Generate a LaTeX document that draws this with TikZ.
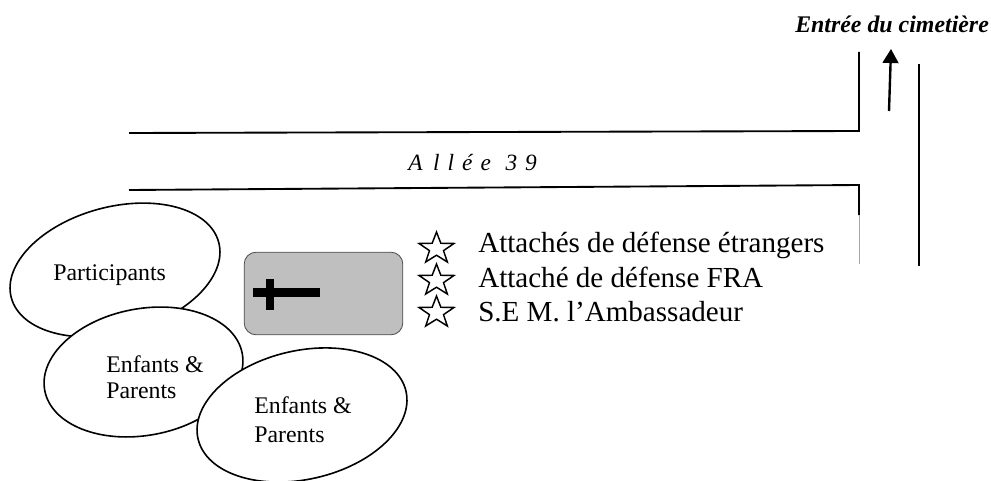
\documentclass[tikz,border=0pt]{standalone}
\usepackage{fontspec}
\setmainfont{Liberation Serif}
\usetikzlibrary{shapes.geometric,arrows.meta}
\tikzset{
  wall/.style={draw=black,line width=1.4pt,line join=miter},
  blob/.style={ellipse,draw=black,line width=1.2pt,fill=white,inner sep=0pt},
  lab/.style={anchor=base west,inner sep=0pt,font=\fontsize{17.9pt}{20pt}\selectfont},
  biglab/.style={anchor=base west,inner sep=0pt,font=\fontsize{21.8pt}{24pt}\selectfont},
  starmark/.style={star,star points=5,star point ratio=2.5,draw=black,line width=1.1pt,fill=white,inner sep=0pt,outer sep=0pt,minimum size=27.6pt,yscale=0.9}
}
\begin{document}
\begin{tikzpicture}[x=0.75pt,y=-0.75pt]
\useasboundingbox (0,0) rectangle (991,481);
\clip (0,0) rectangle (991,481);
% walls
\draw[wall] (129,133) -- (859,131) -- (859,52);
\draw[wall] (129,190) -- (859,185) -- (859,215);
\draw[draw=gray!70,line width=0.6pt] (859,215) -- (859,264);
\draw[wall] (919,64) -- (919,266);
\coordinate (arrowfoot) at (889,111);
\coordinate (arrowtip) at (891,49);
\draw[line width=1.8pt,-{Triangle[length=10.5pt,width=11.8pt]}] (arrowfoot) -- (arrowtip);
% ellipses
\node[blob,rotate=15,minimum width=161pt,minimum height=94.5pt] (e1) at (115,270) {};
\node[blob,rotate=10.6,minimum width=150.7pt,minimum height=95pt] (e2) at (143.5,372) {};
\node[blob,rotate=12.9,minimum width=160pt,minimum height=96.5pt] (e3) at (302,415) {};
% plaque
\node[draw=black!70,line width=0.6pt,fill=black!25,rounded corners=9pt,minimum width=119pt,minimum height=62pt,inner sep=0pt] (plaque) at (323.5,293.5) {};
\fill[black] (253,288) rectangle (320,297);
\fill[black] (266,279) rectangle (274,310);
% labels
\node[lab] (tp) at (53,280) {Participants};
\node[lab] (t2a) at (106,372) {Enfants \&};
\node[lab] (t2b) at (106,398) {Parents};
\node[lab] (t3a) at (254,413) {Enfants \&};
\node[lab] (t3b) at (254,442) {Parents};
\node[starmark] (s1) at (436.5,248.6) {};
\node[starmark] (s2) at (436.5,280.6) {};
\node[starmark] (s3) at (436.5,312.6) {};
\node[biglab] (l1) at (478,252) {Attachés de défense étrangers};
\node[biglab] (l2) at (478,287) {Attaché de défense FRA};
\node[biglab] (l3) at (478,321) {S.E M. l’Ambassadeur};
\node[lab,font=\fontsize{17.5pt}{20pt}\selectfont\itshape] (allee) at (408,171) {\spaceskip=6pt A\hspace{2pt} l l é e\hspace{11pt}3 9};
\node[lab,font=\fontsize{17.9pt}{20pt}\selectfont\itshape\bfseries] (entree) at (795,33) {Entrée du cimetière};
\end{tikzpicture}
\end{document}
